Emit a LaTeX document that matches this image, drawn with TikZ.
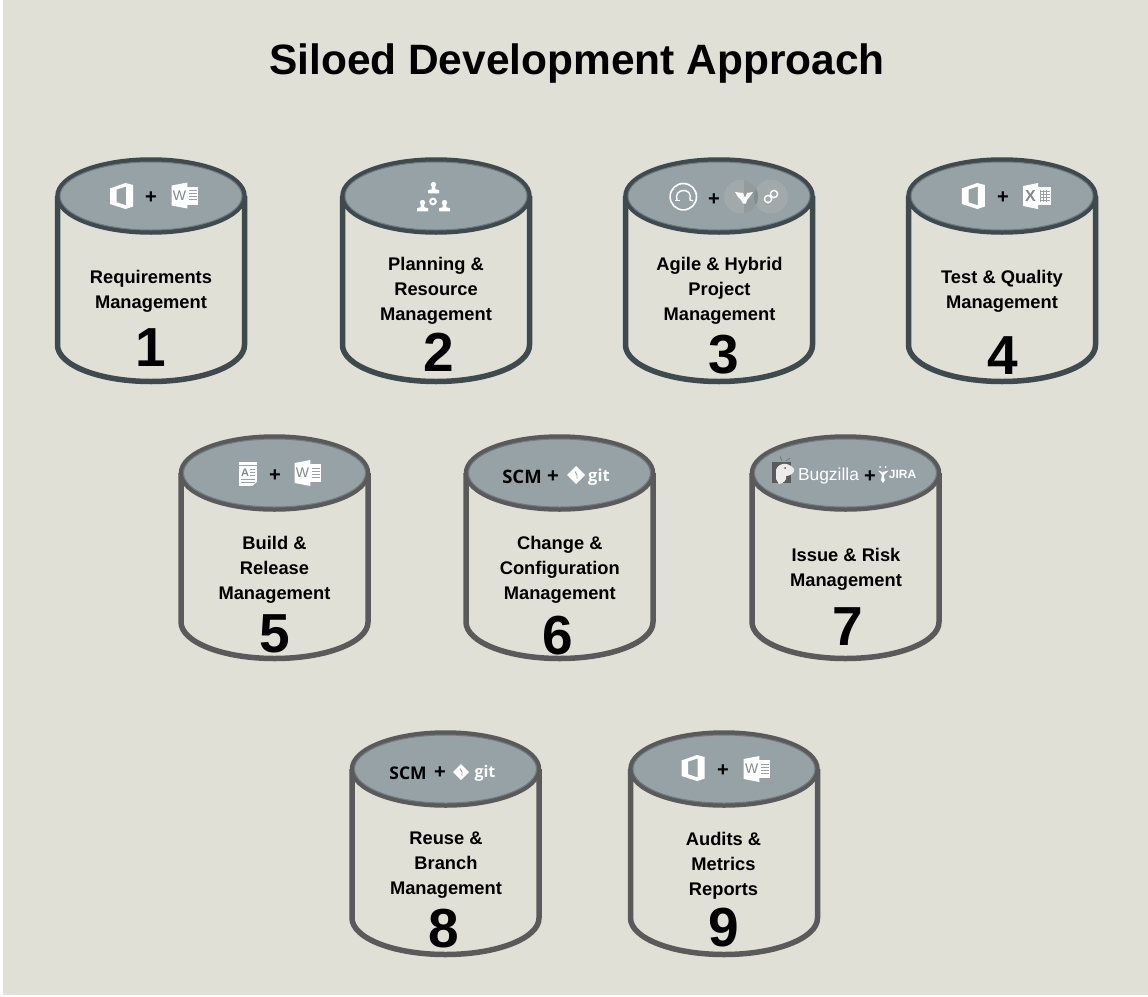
\documentclass[tikz,border=0pt]{standalone}
\usepackage{fontspec}
\setmainfont{Liberation Sans}
\newfontfamily\scmfont{Open Sans}
\definecolor{bgc}{HTML}{E0E0D7}
\definecolor{capc}{HTML}{97A2A6}
\definecolor{rimc}{HTML}{6F7C80}
\definecolor{darkc}{HTML}{3F4A4F}
\definecolor{grayc}{HTML}{5A5A5A}
\definecolor{lgt}{HTML}{A1A9AB}
\definecolor{mid}{HTML}{929C9F}
\definecolor{ovl}{HTML}{828D90}
\tikzset{
  x=1pt,y=-1pt,
  lbl/.style={font=\fontsize{18.3}{25}\selectfont\bfseries,align=center,inner sep=0pt,text=black},
  num/.style={font=\fontsize{55}{55}\selectfont\bfseries,inner sep=0pt,text=black},
  titlelbl/.style={font=\fontsize{42.45}{50}\selectfont\bfseries,inner sep=0pt,text=black},
  plusl/.style={font=\fontsize{20}{20}\selectfont\bfseries,inner sep=0pt,text=black},
  scml/.style={font=\fontsize{17.5}{20}\selectfont\scmfont\bfseries,inner sep=0pt,text=black},
  gitl/.style={font=\fontsize{16}{20}\selectfont\scmfont\bfseries,inner sep=0pt,text=white},
  icn/.style={fill=white,draw=none},
}
% #1 x centre, #2 top ellipse centre y, #3 colour
\newcommand{\silo}[3]{%
  \draw[#3,line width=5.5pt,fill=bgc,line join=round]
    (#1-93.5,#2) -- (#1-93.5,#2+149)
    .. controls (#1-93.5,#2+169.2) and (#1-51.6,#2+185.5) .. (#1,#2+185.5)
    .. controls (#1+51.6,#2+185.5) and (#1+93.5,#2+169.2) .. (#1+93.5,#2+149)
    -- (#1+93.5,#2);
  \fill[capc,draw=#3,line width=4.5pt] (#1,#2) ellipse [x radius=93.5,y radius=36.5];
  \draw[rimc,line width=1pt] (#1,#2) ellipse [x radius=91,y radius=34];
}
\newcommand{\officeicon}[2]{%
  \begin{scope}[shift={(#1,#2)}]
  \fill[icn,even odd rule] (-11.5,-7.5) -- (4,-13) -- (11.5,-11) -- (11.5,10.5) -- (4,13) -- (-11.5,8) -- cycle
    (-4.8,-6.5) -- (4.6,-9.6) -- (4.6,9.4) -- (-4.8,6.3) -- cycle;
  \end{scope}}
\newcommand{\wordicon}[3]{%
  \begin{scope}[shift={(#1,#2)}]
  \fill[icn] (-13.3,-10) -- (2.4,-13) -- (2.4,13) -- (-13.3,10) -- cycle;
  \fill[icn] (2,-9) rectangle (13.4,9);
  \foreach \yy in {-5.4,-2.4,0.6,3.6} \fill[capc] (3.6,\yy) rectangle (11.6,\yy+1.3);
  \node[font=\fontsize{14}{14}\selectfont,text=capc!85!black,inner sep=0pt] (#3) at (-5.4,0) {W};
  \end{scope}}
\newcommand{\excelicon}[3]{%
  \begin{scope}[shift={(#1,#2)}]
  \fill[icn] (-14,-10) -- (1,-13) -- (1,13) -- (-14,10) -- cycle;
  \fill[icn] (1,-9) rectangle (14,9);
  \foreach \yy in {-5.5,-2.3,0.9,4.1} \fill[capc] (3,\yy) rectangle (12.5,\yy+1);
  \foreach \xx in {3,6.2,9.4} \fill[capc] (\xx,-6) rectangle (\xx+.9,6);
  \node[font=\fontsize{16}{16}\selectfont\bfseries,text=capc!85!black,inner sep=0pt] (#3) at (-6.5,0) {X};
  \end{scope}}
\newcommand{\personicon}[2]{%
  \begin{scope}[shift={(#1,#2)}]
  \fill[icn] (0,-3.4) circle (2.7);
  \fill[icn] (-1.6,-1.3) -- (1.6,-1.3) -- (2,1.3) -- (5.5,2.2) -- (5.5,5.4) -- (-5.5,5.4) -- (-5.5,2.2) -- (-2,1.3) -- cycle;
  \end{scope}}
\newcommand{\gitmark}[3]{%
  \fill[icn] (#1-#3,#2) -- (#1,#2-#3) -- (#1+#3,#2) -- (#1,#2+#3) -- cycle;
  \draw[capc,line width=.9pt] (#1-1,#2-3.5) -- (#1+1,#2) -- (#1+1,#2+3.5);}
\begin{document}
\begin{tikzpicture}
\useasboundingbox (0,0) rectangle (1148,996);
\fill[white] (0,0) rectangle (1148,996);
\fill[bgc] (3,0) rectangle (1148,995);
\node[titlelbl] (title) at (577,64) {Siloed Development Approach};

% row 1
\silo{151}{196}{darkc}
\silo{436}{196}{darkc}
\silo{719}{196}{darkc}
\silo{1002}{196}{darkc}
% row 2
\silo{274.5}{473}{grayc}
\silo{559.5}{473}{grayc}
\silo{845.5}{473}{grayc}
% row 3
\silo{445.5}{769}{grayc}
\silo{724}{769}{grayc}

% labels
\node[lbl] (l1) at (151,291.5) {Requirements\\Management};
\node[num] (n1) at (151,348) {1};
\node[lbl] (l2) at (436,291) {Planning \&\\Resource\\Management};
\node[num] (n2) at (439,352) {2};
\node[lbl] (l3) at (719.5,291) {Agile \& Hybrid\\Project\\Management};
\node[num] (n3) at (724,355) {3};
\node[lbl] (l4) at (1002,291.5) {Test \& Quality\\Management};
\node[num] (n4) at (1003,356) {4};
\node[lbl] (l5) at (274.5,570) {Build \&\\Release\\Management};
\node[num] (n5) at (275,634) {5};
\node[lbl] (l6) at (559.8,570) {Change \&\\Configuration\\Management};
\node[num] (n6) at (558,636) {6};
\node[lbl] (l7) at (846,569.5) {Issue \& Risk\\Management};
\node[num] (n7) at (848,627) {7};
\node[lbl] (l8) at (446,865.5) {Reuse \&\\Branch\\Management};
\node[num] (n8) at (444,929) {8};
\node[lbl] (l9) at (723.5,865.5) {Audits \&\\Metrics\\Reports};
\node[num] (n9) at (724,928) {9};

% icons, silo 1
\officeicon{121.5}{196}
\node[plusl] (p1) at (151,198) {+};
\wordicon{185}{195.5}{w1}
% silo 2
\personicon{433.5}{188}
\personicon{422.5}{206}
\personicon{444.5}{206}
\draw[white,line width=2pt] (433,201.5) circle (2.8);
% silo 3
\draw[white,line width=1.6pt] (683.3,196.7) circle (13.2);
\draw[white,line width=1.4pt] (677,200) .. controls (673,188) and (693,187) .. (690,199) .. controls (689.8,200) and (690,200.7) .. (693,200.7);
\draw[white,line width=1.4pt] (675,200.7) -- (680,200.7);
\node[plusl] (p3) at (714,200) {+};
\fill[lgt] (741,196.7) circle (17);
\fill[lgt] (771,196.7) circle (17);
\begin{scope}
  \clip (744,170) rectangle (790,220);
  \fill[mid] (741,196.7) circle (17);
\end{scope}
\begin{scope}
  \clip (741,196.7) circle (17);
  \fill[ovl] (771,196.7) circle (17);
\end{scope}
\fill[icn] (735,192) -- (743,193) -- (745,198) -- (747,193) -- (753,192) -- (749.5,197) -- (747,200) -- (746,203.5) -- (743,203.5) -- (741,200) -- (738,197) -- cycle;
\draw[white,line width=1.4pt] (768,199) circle (3.6) (774,194) circle (3.6);
% silo 4
\officeicon{973.3}{196}
\node[plusl] (p4) at (1003,198) {+};
\excelicon{1037}{196}{x4}
% silo 5
\fill[icn] (239,462) rectangle (257,486);
\fill[capc] (239,464.5) rectangle (257,465.3);
\node[font=\fontsize{11}{11}\selectfont\bfseries,text=capc!85!black,inner sep=0pt] (a5) at (245,473) {A};
\foreach \yy in {469,472,475} \fill[capc] (250,\yy) rectangle (255,\yy+1);
\foreach \yy in {479,482} \fill[capc] (241,\yy) rectangle (255,\yy+1);
\fill[capc] (252,486.2) -- (257,486.2) -- (257,482) -- cycle;
\node[plusl] (p5) at (275,476) {+};
\wordicon{308}{473}{w5}
% silo 6
\node[scml,font=\fontsize{18.5}{20}\selectfont\scmfont\bfseries] (s6) at (522,477) {SCM};
\node[plusl] (p6) at (553,477) {+};
\gitmark{576}{475}{9}
\node[gitl,font=\fontsize{16.5}{20}\selectfont\scmfont\bfseries] (g6) at (599,477) {git};
% silo 7
\fill[grayc] (772,462) rectangle (791,483);
\fill[white!85!gray] (776,470) .. controls (778,463) and (788,461) .. (794,469) .. controls (795,473) and (790,476) .. (786,476)
  .. controls (787,480) and (784,483) .. (779,484) -- (776,479) -- cycle;
\fill[grayc] (785,468) circle (1);
\draw[grayc!80!capc,line width=.5pt] (782,461) -- (780,456) (786,461) -- (790,458);
\node[font=\fontsize{17.4}{18}\selectfont,text=white,inner sep=0pt] (b7) at (828.5,476) {Bugzilla};
\node[plusl] (p7) at (870,477) {+};
\fill[icn] (882.5,473) -- (885,480) -- (883,483) -- (881,480) -- cycle;
\fill[icn] (878,470.5) -- (882.5,472) -- (883,476) -- cycle;
\fill[icn] (888.5,470.5) -- (883,472) -- (883,476) -- cycle;
\fill[icn] (880,467) circle (1) (885.5,467) circle (1);
\node[font=\fontsize{12}{16}\selectfont\bfseries,text=white,inner sep=0pt] (j7) at (902.5,474.5) {JIRA};
% silo 8
\node[scml] (s8) at (408,773) {SCM};
\node[plusl] (p8) at (440,773) {+};
\gitmark{461}{772}{8}
\node[gitl] (g8) at (485,773.5) {git};
% silo 9
\officeicon{693}{768}
\node[plusl] (p9) at (723,771) {+};
\wordicon{757}{769}{w9}
\end{tikzpicture}
\end{document}
